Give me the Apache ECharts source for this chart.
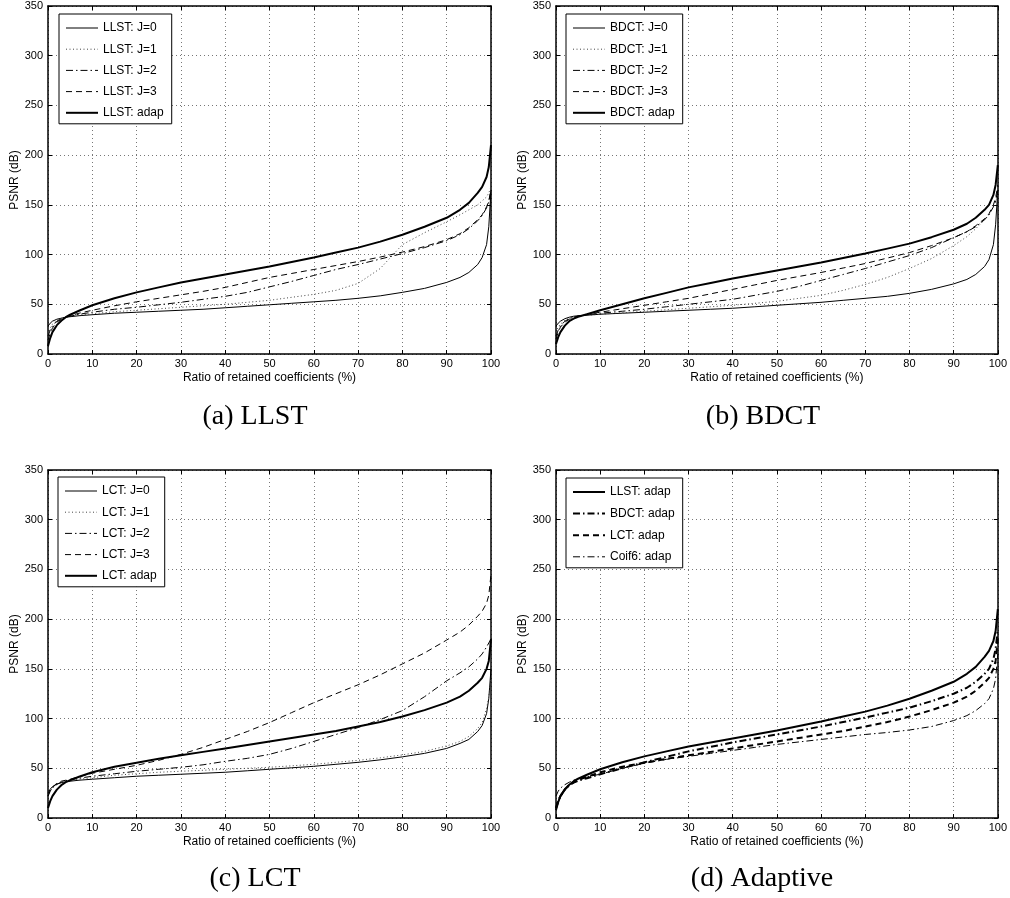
<!DOCTYPE html>
<html>
<head>
<meta charset="utf-8">
<script src="https://cdn.jsdelivr.net/npm/echarts@6/dist/echarts.min.js"></script>
<style>html,body{margin:0;padding:0;background:#fff}#c{width:1010px;height:898px}</style>
</head>
<body>
<div id="c"></div>
<script>
// ---- data ----
const ratio = [0, 0.5, 1, 2, 3, 4, 5, 7, 10, 15, 20, 25, 30, 35, 40, 45, 50, 55, 60, 65, 70, 75, 80, 85, 90, 93, 95, 97, 98, 99, 99.5, 100];
const yTicks = [0, 50, 100, 150, 200, 250, 300, 350];
const xTicks = [0, 10, 20, 30, 40, 50, 60, 70, 80, 90, 100];

// (a) LLST
const llstJ0 = [28, 31, 33, 35, 36, 37, 37.5, 38.5, 39.5, 41, 42, 43, 44, 45, 46.5, 48, 49.5, 51, 52.5, 54, 56, 58.5, 62, 66, 72, 77, 82, 90, 97, 110, 128, 165];
const llstJ1 = [20, 26, 30, 34, 36, 37, 38, 39, 40.5, 42.5, 44, 45.5, 47, 48.5, 50, 52, 54, 57, 60, 64, 71, 86, 110, 122, 133, 140, 145, 150, 154, 158, 162, 168];
const llstJ2 = [18, 24, 28, 33, 35.5, 37, 38, 40, 42, 45, 47, 49.5, 52, 55, 58, 62, 67.5, 73, 79, 85, 90, 95.5, 101, 107, 114, 120, 126, 134, 139, 147, 153, 165];
const llstJ3 = [14, 21, 26, 32, 35, 37, 38.5, 41, 44, 48.5, 52.5, 56, 59.5, 63, 67, 72, 77, 81, 85, 89, 93, 97.5, 102.5, 108, 115, 121, 127, 135, 140, 148, 154, 165];
const llstAdap = [8, 16, 22, 29, 33.5, 37, 39.5, 43.5, 49, 56, 62, 67, 72, 76, 80, 84, 88, 92.5, 97, 102, 107, 113, 120, 128, 137, 145, 152, 162, 168, 178, 188, 210];

// (b) BDCT
const bdctJ0 = [28, 31, 33, 35.5, 37, 38, 38.5, 39, 40, 41, 42, 43, 44, 45, 46, 47.5, 49, 50.5, 52, 54, 56, 58, 61, 65, 70.5, 75, 80, 88, 95, 110, 130, 165];
const bdctJ1 = [22, 27, 30, 34, 36, 37.5, 38, 39, 40, 41.5, 43, 44.5, 46, 47.5, 49, 51, 53, 56, 59, 64, 70, 77, 86, 96, 109, 118, 126, 135, 140, 148, 153, 160];
const bdctJ2 = [18, 24, 28, 33, 35.5, 37, 38, 39.5, 41, 43, 45, 47.5, 50, 52.5, 55, 59, 63, 68, 74, 80, 86, 92.5, 99, 107, 117, 123, 128, 135, 140, 148, 154, 165];
const bdctJ3 = [15, 22, 27, 32, 35, 37, 38, 40, 42, 45.5, 49, 52.5, 56, 60.5, 65, 69.5, 74, 78, 82, 86.5, 91, 96.5, 102, 109, 117, 123, 129, 136, 141, 150, 157, 170];
const bdctAdap = [10, 17, 22, 28.5, 33, 35.5, 37.5, 40, 44, 50, 56, 61.5, 67, 71.5, 76, 80, 84, 88, 92, 96.5, 101, 106, 111, 117.5, 125, 131, 137, 145, 150, 160, 170, 190];

// (c) LCT
const lctJ0 = [25, 29, 31.5, 34, 35.5, 36.5, 37, 38, 39, 40.5, 42, 43, 44, 45, 46, 47.5, 49, 50.5, 52, 54, 56, 58.5, 61.5, 65, 70, 75, 79, 87, 93, 105, 120, 150];
const lctJ1 = [22, 27, 30, 33.5, 35.5, 37, 38, 39, 40.5, 43, 44.5, 46, 47, 48, 49, 50, 51, 52.5, 54, 56, 58, 60.5, 63.5, 67, 72.5, 77, 82, 90, 96, 110, 122, 140];
const lctJ2 = [22, 27, 30.5, 34, 36, 37.5, 38.5, 40, 42, 44.5, 47, 49, 51, 53.5, 57, 60, 64, 70, 77, 84, 91, 99, 108, 122, 138, 146, 152, 160, 165, 172, 176, 180];
const lctJ3 = [22, 28, 31, 35, 37, 38, 39, 41.5, 45, 49, 53, 58, 64, 71, 79, 87, 96, 106, 116, 125, 134, 144, 155, 166, 179, 187, 194, 203, 208, 216, 224, 245];
const lctAdap = [10, 17, 22, 28.5, 33, 36, 38, 41.5, 46, 51.5, 55.5, 59.5, 63, 66.5, 70, 73.5, 77, 80.5, 84, 87.5, 92, 96.5, 102, 108.5, 116, 122, 128, 136, 141, 150, 158, 180];

// (d) Adaptive
const coif6Adap = [22, 27, 30, 33.5, 36, 38, 39.5, 41.5, 44, 50, 55, 59, 62, 65, 68, 71, 74, 76.5, 79, 81.5, 84, 86, 88.5, 92, 98, 103, 108, 115, 120, 130, 140, 165];

const captions = ['(a) LLST', '(b) BDCT', '(c) LCT', '(d) Adaptive'];

// ---- styles ----
const DOT = [1, 2.5];
const DASHDOT = [7, 3, 1.5, 3];
const DASH = [6, 4];

const panels = [
  { left: 48, top: 6, series: [
    ['LLST: J=0', llstJ0, 'solid', 1, '#000'],
    ['LLST: J=1', llstJ1, DOT, 1, '#444'],
    ['LLST: J=2', llstJ2, DASHDOT, 1, '#000'],
    ['LLST: J=3', llstJ3, DASH, 1, '#000'],
    ['LLST: adap', llstAdap, 'solid', 2, '#000']
  ], legend: { left: 59, top: 14 }, cap: [255, 417] },
  { left: 556, top: 6, series: [
    ['BDCT: J=0', bdctJ0, 'solid', 1, '#000'],
    ['BDCT: J=1', bdctJ1, DOT, 1, '#444'],
    ['BDCT: J=2', bdctJ2, DASHDOT, 1, '#000'],
    ['BDCT: J=3', bdctJ3, DASH, 1, '#000'],
    ['BDCT: adap', bdctAdap, 'solid', 2, '#000']
  ], legend: { left: 566, top: 14 }, cap: [763, 417] },
  { left: 48, top: 470, series: [
    ['LCT: J=0', lctJ0, 'solid', 1, '#000'],
    ['LCT: J=1', lctJ1, DOT, 1, '#444'],
    ['LCT: J=2', lctJ2, DASHDOT, 1, '#000'],
    ['LCT: J=3', lctJ3, DASH, 1, '#000'],
    ['LCT: adap', lctAdap, 'solid', 2, '#000']
  ], legend: { left: 58, top: 477 }, cap: [255, 879] },
  { left: 556, top: 470, series: [
    ['LLST: adap', llstAdap, 'solid', 2, '#000'],
    ['BDCT: adap', bdctAdap, DASHDOT, 2, '#000'],
    ['LCT: adap', lctAdap, DASH, 2, '#000'],
    ['Coif6: adap', coif6Adap, DASHDOT, 1, '#000']
  ], legend: { left: 566, top: 478 }, cap: [762, 879] }
];

const FONT = 'Liberation Sans, Arial, Helvetica, sans-serif';
const grid = [], xAxis = [], yAxis = [], series = [], legend = [], graphic = [];

panels.forEach((p, i) => {
  grid.push({ left: p.left, top: p.top, width: 443, height: 348, show: false });
  const lineSt = { show: true, onZero: false, lineStyle: { color: '#000', width: 1.5 } };
  const tick = { show: true, inside: true, length: 4, lineStyle: { color: '#000', width: 1 } };
  xAxis.push({
    type: 'value', gridIndex: i, position: 'bottom', min: xTicks[0], max: xTicks[xTicks.length - 1], interval: 10,
    axisLine: lineSt, axisTick: tick,
    axisLabel: { color: '#000', fontSize: 11, fontFamily: FONT, margin: 4 },
    splitLine: { show: true, lineStyle: { color: '#777', type: [1, 3], width: 1 } },
    name: 'Ratio of retained coefficients (%)', nameLocation: 'middle', nameGap: 18,
    nameTextStyle: { color: '#000', fontSize: 12, fontFamily: FONT }
  });
  xAxis.push({
    type: 'value', gridIndex: i, position: 'top', min: 0, max: 100, interval: 10,
    axisLine: lineSt, axisTick: tick, axisLabel: { show: false }, splitLine: { show: false }
  });
  yAxis.push({
    type: 'value', gridIndex: i, position: 'left', min: yTicks[0], max: yTicks[yTicks.length - 1], interval: 50,
    axisLine: lineSt, axisTick: tick,
    axisLabel: { color: '#000', fontSize: 11, fontFamily: FONT, margin: 5 },
    splitLine: { show: true, lineStyle: { color: '#777', type: [1, 3], width: 1 } },
    name: 'PSNR (dB)', nameLocation: 'middle', nameGap: 27,
    nameTextStyle: { color: '#000', fontSize: 12, fontFamily: FONT }
  });
  yAxis.push({
    type: 'value', gridIndex: i, position: 'right', min: 0, max: 350, interval: 50,
    axisLine: lineSt, axisTick: tick, axisLabel: { show: false }, splitLine: { show: false }
  });
  const items = [];
  p.series.forEach(s => {
    const nm = i + '|' + s[0];
    items.push({ name: nm, lineStyle: { width: s[3] } });
    series.push({
      type: 'line', name: nm, xAxisIndex: 2 * i, yAxisIndex: 2 * i,
      data: ratio.map((x, k) => [x, s[1][k]]),
      showSymbol: false, symbol: 'none', smooth: false,
      lineStyle: { color: s[4], width: s[3], type: s[2] },
      itemStyle: { color: s[4] },
      emphasis: { disabled: true }, z: 3
    });
  });
  legend.push({
    data: items,
    orient: 'vertical', left: p.legend.left, top: p.legend.top,
    itemWidth: 32, itemHeight: 14, itemGap: i === 3 ? 9.6 : 9.2,
    padding: [8, 8, 5, 6],
    itemStyle: { opacity: 0 },
    borderColor: '#000', borderWidth: 1, backgroundColor: '#fff',
    textStyle: { color: '#000', fontSize: 12, fontFamily: FONT },
    formatter: n => n.split('|')[1],
    selectedMode: false, z: 10
  });
  graphic.push({
    type: 'text', x: p.cap[0], y: p.cap[1],
    style: { text: captions[i], font: '28px "Liberation Serif", "Times New Roman", serif', fill: '#000',
      align: 'center', verticalAlign: 'middle', textAlign: 'center', textVerticalAlign: 'middle' }
  });
});

const chart = echarts.init(document.getElementById('c'), null, { renderer: 'canvas' });
chart.setOption({ animation: false, backgroundColor: '#fff', grid, xAxis, yAxis, series, legend, graphic });
</script>
</body>
</html>
